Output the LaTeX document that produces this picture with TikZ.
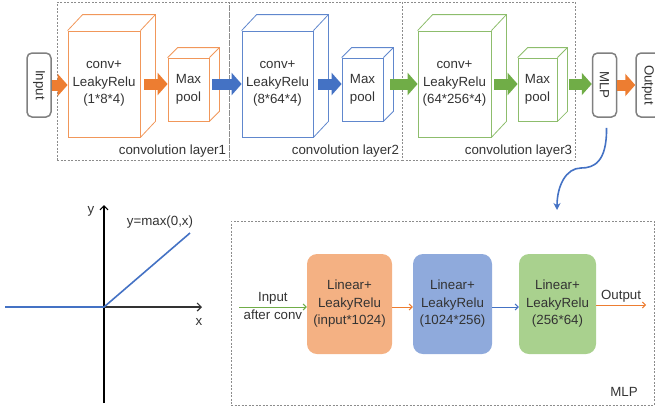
\documentclass[tikz,border=0pt]{standalone}
\usepackage{fontspec}
\setmainfont{Liberation Sans}
\usetikzlibrary{arrows.meta, positioning, calc}
\definecolor{accorange}{HTML}{ED7D31}
\definecolor{accblue}{HTML}{4472C4}
\definecolor{accgreen}{HTML}{70AD47}
\definecolor{fillorange}{HTML}{F4B183}
\definecolor{fillblue}{HTML}{8FAADC}
\definecolor{fillgreen}{HTML}{A9D18E}
\tikzset{
	cubeface/.style={rectangle, draw, line width=0.8pt, align=center, inner sep=0pt},
	layerbox/.style={rectangle, draw=black!45, dash pattern=on 2pt off 1.5pt, line width=0.6pt},
	endbox/.style={rectangle, draw=black!50, rounded corners=5pt, line width=1.5pt, minimum width=24pt, minimum height=64pt, inner sep=0pt},
	linbox/.style={rectangle, rounded corners=10pt, align=center, minimum height=100pt},
	blockarr/.style={line width=11pt, -{Triangle[length=10pt, width=22pt]}},
	thinarr/.style={line width=1pt, -{Straight Barb[length=3pt, width=6pt]}},
	axisline/.style={line width=1.2pt, -{Straight Barb[length=4pt, width=8pt]}},
	lbl/.style={text=black!80, inner sep=2pt}
}
% back edges of a box drawn as a cube
\newcommand{\cubeback}[4]{%
	\draw[#4, line width=0.8pt] (#1.north west) -- ++(#2,#3) -- ($(#1.north east)+(#2,#3)$) -- ($(#1.south east)+(#2,#3)$) -- (#1.south east);
	\draw[#4, line width=0.8pt] (#1.north east) -- ++(#2,#3);
}
\begin{document}
\begin{tikzpicture}[x=1pt, y=-1pt, font=\fontsize{13.3}{17.5}\selectfont, text=black!80]
	\useasboundingbox (0,0) rectangle (655,408);

	\node[layerbox, minimum width=172pt, minimum height=158pt] (layer1) at (143,81) {};
	\node[layerbox, minimum width=173pt, minimum height=158pt] (layer2) at (315.5,81) {};
	\node[layerbox, minimum width=173pt, minimum height=158pt] (layer3) at (488.5,81) {};
	\node[anchor=south east, inner sep=3pt] at (layer1.south east) {convolution layer1};
	\node[anchor=south east, inner sep=3pt] at (layer2.south east) {convolution layer2};
	\node[anchor=south east, inner sep=3pt] at (layer3.south east) {convolution layer3};

	\node[endbox] (in) at (39,85) {\rotatebox{-90}{Input}};
	\node[endbox] (mlp) at (604.5,85) {\rotatebox{-90}{MLP}};
	\node[endbox] (out) at (648,85) {\rotatebox{-90}{Output}};

	\node[cubeface, draw=accorange!80, minimum width=72pt, minimum height=106pt] (conv1) at (104,84) {conv+\\LeakyRelu\\(1*8*4)};
	\node[cubeface, draw=accorange!80, minimum width=41pt, minimum height=63pt] (pool1) at (188.5,89.5) {Max\\pool};
	\node[cubeface, draw=accblue!85, minimum width=71pt, minimum height=106pt] (conv2) at (277.5,84) {conv+\\LeakyRelu\\(8*64*4)};
	\node[cubeface, draw=accblue!85, minimum width=41pt, minimum height=63pt] (pool2) at (362.5,89.5) {Max\\pool};
	\node[cubeface, draw=accgreen!80, minimum width=73pt, minimum height=106pt] (conv3) at (454.5,84) {conv+\\LeakyRelu\\(64*256*4)};
	\node[cubeface, draw=accgreen!80, minimum width=39pt, minimum height=63pt] (pool3) at (537.5,89.5) {Max\\pool};
	\cubeback{conv1}{15}{-16}{accorange!80}
	\cubeback{pool1}{10}{-10}{accorange!80}
	\cubeback{conv2}{15}{-16}{accblue!85}
	\cubeback{pool2}{10}{-10}{accblue!85}
	\cubeback{conv3}{15}{-16}{accgreen!80}
	\cubeback{pool3}{10}{-10}{accgreen!80}

	\draw[blockarr, accorange] (in.east) -- (in.east -| conv1.west);
	\draw[blockarr, accorange] ($(conv1.east)+(4,0)$) -- (conv1.east -| pool1.west);
	\draw[blockarr, accblue] ($(conv1.east -| pool1.east)+(3,0)$) -- (conv2.west);
	\draw[blockarr, accblue] ($(conv2.east)+(5,0)$) -- (conv2.east -| pool2.west);
	\draw[blockarr, accgreen] ($(conv2.east -| pool2.east)+(7,0)$) -- (conv3.west);
	\draw[blockarr, accgreen] ($(conv3.east)+(3,0)$) -- (conv3.east -| pool3.west);
	\draw[blockarr, accgreen] ($(conv3.east -| pool3.east)+(12,0)$) -- (conv3.east -| mlp.west);
	\draw[blockarr, accorange] (mlp.east) -- (out.west);

	\coordinate (mlpdrop) at (557,210);
	\draw[accblue, line width=1.6pt, -{Stealth[length=7pt, width=7pt]}] ($(mlp.south)+(2,10)$) .. controls (607,162) and (594,168) .. (581,168) .. controls (566,168) and (557,186) .. (mlpdrop);

	% activation function
	\coordinate (o) at (104,307);
	\draw[axisline, black] (104,403) -- (104,205);
	\draw[axisline, black!80] (5,307) -- (202,307);
	\draw[accblue, line width=1.6pt] (5,307) -- (o) -- (190,233);
	\node at (91,211) {y};
	\node at (160,222) {y=max(0,x)};
	\node at (199,322) {x};

	% MLP detail
	\node[layerbox, minimum width=423pt, minimum height=184pt] (mlpbox) at (442.5,313) {};
	\node at (624,392) {MLP};
	\node[linbox, fill=fillorange, minimum width=85pt] (lin1) at (349.5,304) {Linear+\\LeakyRelu\\(input*1024)};
	\node[linbox, fill=fillblue, minimum width=79pt] (lin2) at (452.5,304) {Linear+\\LeakyRelu\\(1024*256)};
	\node[linbox, fill=fillgreen, minimum width=77pt] (lin3) at (557.5,304) {Linear+\\LeakyRelu\\(256*64)};
	\coordinate (mlpin) at (239,307);
	\coordinate (mlpout) at (646,305);
	\draw[thinarr, accgreen] (mlpin) -- node[above, lbl] {Input} node[below, lbl] {after conv} (mlpin -| lin1.west);
	\draw[thinarr, accorange] (lin1.east |- mlpin) -- (lin2.west |- mlpin);
	\draw[thinarr, accblue] (lin2.east |- mlpin) -- (lin3.west |- mlpin);
	\draw[thinarr, accorange] (lin3.east |- mlpout) -- node[above, lbl] {Output} (mlpout);
\end{tikzpicture}
\end{document}
